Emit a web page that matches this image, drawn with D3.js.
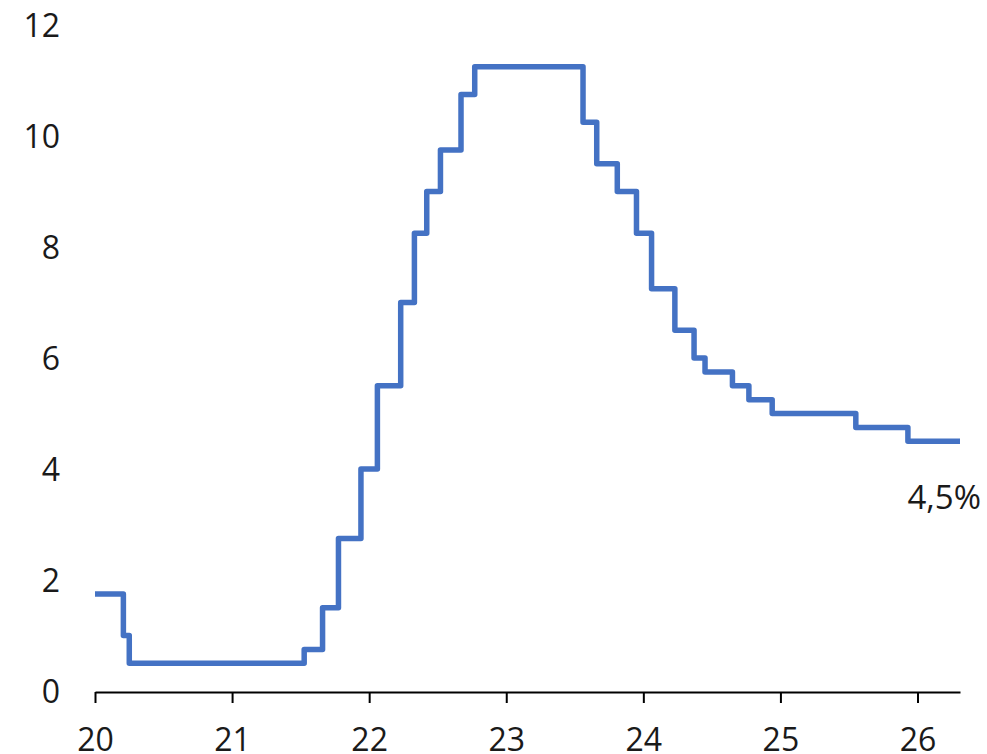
<!DOCTYPE html>
<html>
<head>
<meta charset="utf-8">
<script src="https://cdn.jsdelivr.net/npm/d3@7"></script>
<style>
  html, body { margin: 0; padding: 0; background: #fff; }
  svg text { font-family: "Open Sans", "Noto Sans", sans-serif; fill: #1a1a1a; }
</style>
</head>
<body>
<svg id="chart" width="987" height="754"></svg>
<script>

// decimal years (20 = 2020) where each step starts, and the rate from that point on
const stepYears = [20.00, 20.207, 20.25, 21.526, 21.66, 21.776, 21.94, 22.06, 22.23, 22.33, 22.42, 22.52, 22.67, 22.77,
                   23.56, 23.66, 23.81, 23.95, 24.06, 24.23, 24.37, 24.45, 24.65, 24.77, 24.94, 25.55, 25.93, 26.31]
const rates = [1.75, 1.0, 0.5, 0.75, 1.5, 2.75, 4.0, 5.5, 7.0, 8.25, 9.0, 9.75, 10.75, 11.25,
               10.25, 9.5, 9.0, 8.25, 7.25, 6.5, 6.0, 5.75, 5.5, 5.25, 5.0, 4.75, 4.5, 4.5]

const xTicks = [20, 21, 22, 23, 24, 25, 26]
const yTicks = [0, 2, 4, 6, 8, 10, 12]
const endLabel = '4,5%'

const data = stepYears.map((y, i) => ({year: y, rate: rates[i]}))

const svg = d3.select('#chart')

let xScale = d3.scaleLinear()
.domain([20, d3.max(stepYears)])
.range([95, 960])

let yScale = d3.scaleLinear()
.domain([0, 12])
.range([691, 25])

let line = d3.line()
.x(d => xScale(d.year))
.y(d => yScale(d.rate))
.curve(d3.curveStepAfter)

// y labels, no axis line
const yAxis = svg.append('g')
.attr('transform', 'translate(60,0)')
.call(d3.axisLeft(yScale).tickValues(yTicks).tickSize(0).tickPadding(0))

yAxis.select('.domain').remove()
yAxis.selectAll('.tick text')
.attr('font-size', 32)
.attr('dy', '0.36em')
.attr('fill', '#1a1a1a')

// x axis
const xAxis = svg.append('g')
.attr('transform', 'translate(0,' + 692 + ')')
.call(d3.axisBottom(xScale).tickValues(xTicks).tickFormat(d3.format('d')).tickSize(11).tickSizeOuter(0).tickPadding(25))

xAxis.select('.domain')
.attr('stroke', '#000')
.attr('stroke-width', 2)

xAxis.selectAll('.tick line')
.attr('stroke', '#000')
.attr('stroke-width', 2)

xAxis.selectAll('.tick text')
.attr('font-size', 32)
.attr('dy', '0.71em')
.attr('fill', '#1a1a1a')

svg.append('path')
.datum(data)
.attr('d', line)
.attr('fill', 'none')
.attr('stroke', '#4472C4')
.attr('stroke-width', 5.5)
.attr('stroke-linejoin', 'round')

const last = data[data.length - 1]

svg.append('text')
.text(endLabel)
.attr('x', xScale(last.year) + 21)
.attr('y', yScale(last.rate) + 68)
.attr('text-anchor', 'end')
.attr('font-size', 33)

</script>
</body>
</html>
